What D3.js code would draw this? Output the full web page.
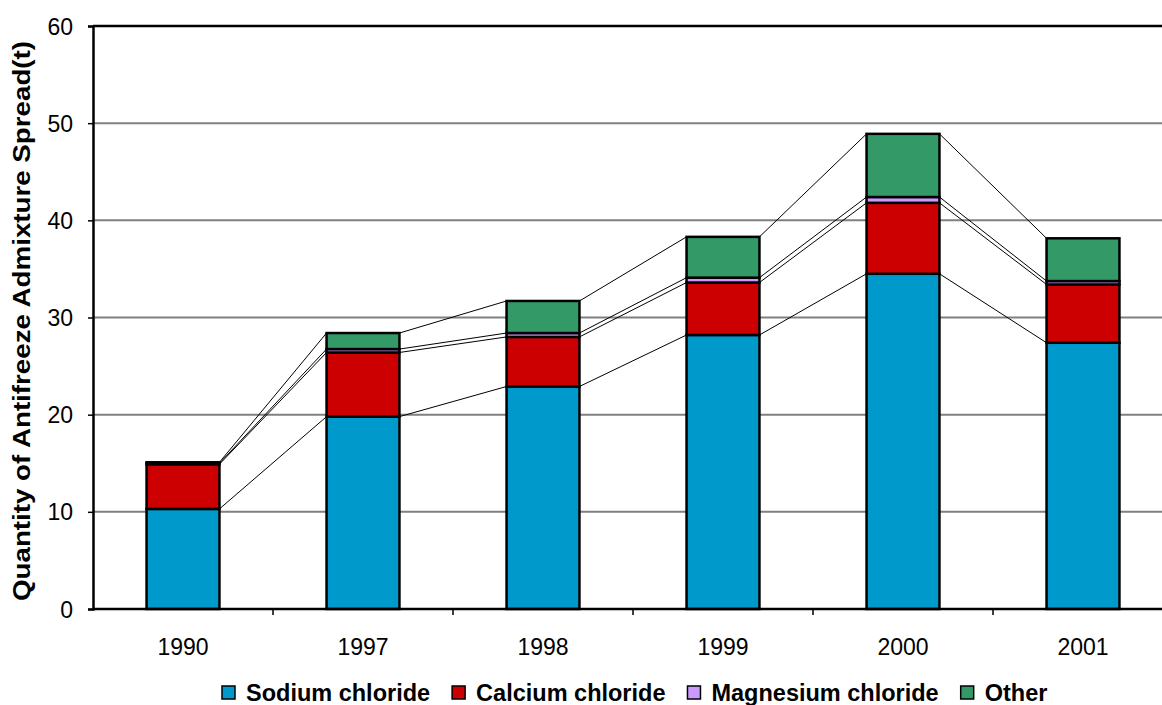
<!DOCTYPE html>
<html>
<head>
<meta charset="utf-8">
<script src="https://cdn.jsdelivr.net/npm/d3@7"></script>
<style>
  body { margin: 0; background: #fff; }
  svg { display: block; font-family: Arial, "Liberation Sans", sans-serif; }
</style>
</head>
<body>
<div id="chart"></div>
<script>
// data
var years = ["1990", "1997", "1998", "1999", "2000", "2001"];
var sodium = [10.3, 19.8, 22.9, 28.2, 34.5, 27.4];
var calcium = [4.6, 6.6, 5.1, 5.4, 7.3, 6.0];
var magnesium = [0.1, 0.35, 0.4, 0.5, 0.6, 0.35];
var other = [0.1, 1.65, 3.3, 4.2, 6.5, 4.4];

var seriesNames = ["Sodium chloride", "Calcium chloride", "Magnesium chloride", "Other"];
var seriesColors = ["#0099cc", "#cc0000", "#cc99ff", "#339966"];
var yTicks = [0, 10, 20, 30, 40, 50, 60];

var rows = years.map(function (y, i) {
    return { year: y, s0: sodium[i], s1: calcium[i], s2: magnesium[i], s3: other[i] };
});
var keys = ["s0", "s1", "s2", "s3"];
var stacked = d3.stack().keys(keys)(rows);

var W = 1162, H = 705;
var margin = { top: 26, left: 93 };
var w = 1080, h = 583;

var svg = d3.select("#chart").append("svg")
    .attr("width", W)
    .attr("height", H);

var g = svg.append("g")
    .attr("transform", "translate(" + margin.left + "," + margin.top + ")");

var x = d3.scaleBand().domain(years).range([0, w]).paddingInner(0.595).paddingOuter(0.2975);
var y = d3.scaleLinear().domain([0, 60]).range([h, 0]);

// gridlines
g.selectAll(".grid")
    .data(yTicks.filter(function (d) { return d > 0 && d < 60; }))
    .enter().append("line")
    .attr("x1", 0).attr("x2", w)
    .attr("y1", function (d) { return y(d); })
    .attr("y2", function (d) { return y(d); })
    .attr("stroke", "#808080")
    .attr("stroke-width", 2);

// connector lines between bars
var step = x.step();
stacked.forEach(function (layer) {
    for (var i = 0; i < years.length - 1; i++) {
        g.append("line")
            .attr("x1", x(years[i]) + x.bandwidth())
            .attr("y1", y(layer[i][1]))
            .attr("x2", x(years[i + 1]))
            .attr("y2", y(layer[i + 1][1]))
            .attr("stroke", "#000")
            .attr("stroke-width", 1);
    }
});

// bars
g.selectAll(".layer")
    .data(stacked)
    .enter().append("g")
    .attr("fill", function (d, i) { return seriesColors[i]; })
    .selectAll("rect")
    .data(function (d) { return d; })
    .enter().append("rect")
    .attr("x", function (d) { return x(d.data.year); })
    .attr("width", x.bandwidth())
    .attr("y", function (d) { return y(d[1]); })
    .attr("height", function (d) { return y(d[0]) - y(d[1]); })
    .attr("stroke", "#000")
    .attr("stroke-width", 2.5);

// plot frame top
g.append("line").attr("x1", 0).attr("x2", w).attr("y1", 0).attr("y2", 0)
    .attr("stroke", "#000").attr("stroke-width", 2.5);

// axes
var yAxis = g.append("g")
    .call(d3.axisLeft(y).tickValues(yTicks).tickSize(5).tickPadding(15));
var xAxis = g.append("g")
    .attr("transform", "translate(0," + h + ")")
    .call(d3.axisBottom(x).tickSize(0).tickPadding(30));

[yAxis, xAxis].forEach(function (ax) {
    ax.select(".domain").attr("stroke", "#000").attr("stroke-width", 2.5);
    ax.selectAll("text").attr("font-size", 23).attr("fill", "#000")
        .attr("font-family", "Arial, 'Liberation Sans', sans-serif");
    ax.selectAll("line").attr("stroke", "#000").attr("stroke-width", 1.5);
});
yAxis.selectAll("text").attr("dy", "0.35em");
xAxis.select(".domain").attr("d", "M0,0H" + w);

// tick marks between categories
g.selectAll(".xtick")
    .data(d3.range(1, years.length))
    .enter().append("line")
    .attr("x1", function (d) { return d * step; })
    .attr("x2", function (d) { return d * step; })
    .attr("y1", h).attr("y2", h + 6)
    .attr("stroke", "#000").attr("stroke-width", 1.5);

// y title
svg.append("text")
    .attr("transform", "translate(30," + (margin.top + 295) + ") rotate(-90)")
    .attr("text-anchor", "middle")
    .attr("font-size", 23)
    .attr("font-weight", "bold")
    .attr("textLength", 560)
    .attr("lengthAdjust", "spacingAndGlyphs")
    .text("Quantity of Antifreeze Admixture Spread(t)");

// legend
var legend = svg.append("g").attr("transform", "translate(0,693)");
var lx = 222;
seriesNames.forEach(function (name, i) {
    var item = legend.append("g").attr("transform", "translate(" + lx + ",0)");
    item.append("rect")
        .attr("x", 0).attr("y", -7)
        .attr("width", 13).attr("height", 13)
        .attr("fill", seriesColors[i])
        .attr("stroke", "#000").attr("stroke-width", 1.5);
    var t = item.append("text")
        .attr("x", 24).attr("y", 0).attr("dy", "0.36em")
        .attr("font-size", 23.5).attr("font-weight", "bold")
        .text(name);
    lx += 24 + t.node().getComputedTextLength() + 22;
});
</script>
</body>
</html>
